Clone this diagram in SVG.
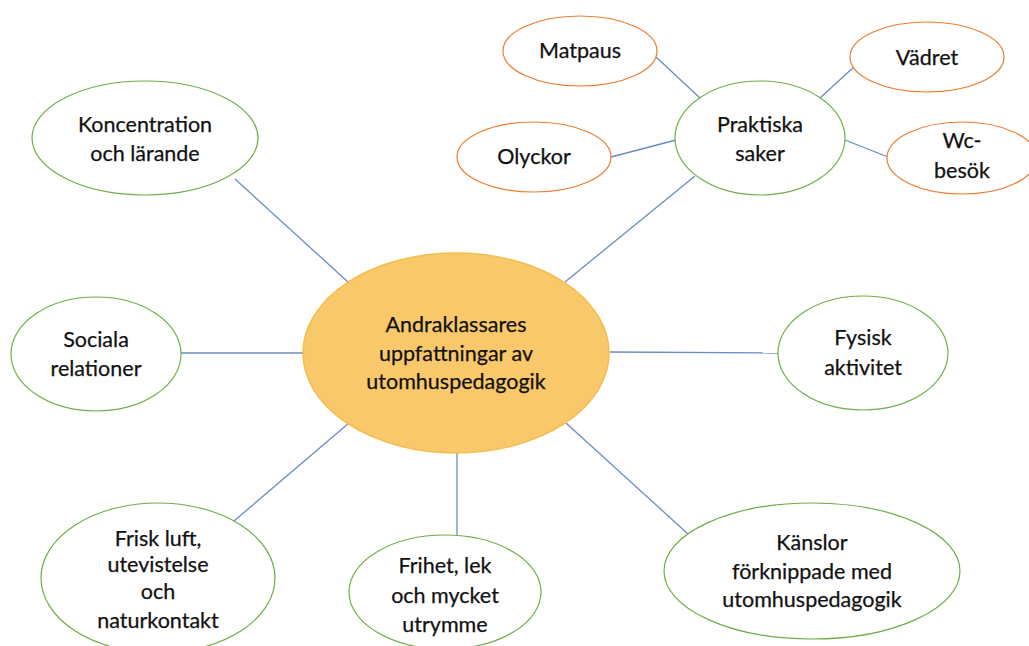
<svg xmlns="http://www.w3.org/2000/svg" width="1029" height="646" viewBox="0 0 1029 646">
<style>
.g{fill:#fff;stroke:#70AD47;stroke-width:1.2}
.o{fill:#fff;stroke:#ED7D31;stroke-width:1.2}
.c{fill:#F9C86B;stroke:#F2BE4E;stroke-width:1.5}
.e line{stroke:#6A8BC8;stroke-width:1.3}
text{font-family:Lato,"Open Sans",sans-serif;font-size:21.5px;fill:#111;text-anchor:middle;stroke:#111;stroke-width:0.25}
</style>
<rect width="1029" height="646" fill="#fff"/>
<g class="e" id="connectors">
<line x1="235" y1="179" x2="348" y2="282"/>
<line x1="181" y1="353" x2="303" y2="353"/>
<line x1="234" y1="521" x2="349" y2="423"/>
<line x1="457" y1="453" x2="457" y2="536"/>
<line x1="566" y1="423" x2="688" y2="534"/>
<line x1="610" y1="352" x2="778" y2="353"/>
<line x1="565" y1="282" x2="695" y2="176"/>
<line x1="656" y1="57" x2="700" y2="98"/>
<line x1="820" y1="98" x2="855" y2="66"/>
<line x1="611" y1="157" x2="676" y2="140"/>
<line x1="845" y1="140" x2="888" y2="157"/>
</g>
<g id="center"><ellipse class="c" cx="456" cy="353" rx="153" ry="100"/>
<text x="456" y="332">Andraklassares</text><text x="456" y="361">uppfattningar av</text><text x="456" y="389">utomhuspedagogik</text></g>
<g id="koncentration"><ellipse class="g" cx="145" cy="138" rx="113" ry="57"/>
<text x="145" y="132">Koncentration</text><text x="145" y="161">och lärande</text></g>
<g id="sociala"><ellipse class="g" cx="96" cy="354" rx="85" ry="57"/>
<text x="96" y="347">Sociala</text><text x="96" y="376">relationer</text></g>
<g id="frisk"><ellipse class="g" cx="158" cy="578" rx="117" ry="75"/>
<text x="158" y="546">Frisk luft,</text><text x="158" y="572">utevistelse</text><text x="158" y="599">och</text><text x="158" y="628">naturkontakt</text></g>
<g id="frihet"><ellipse class="g" cx="445" cy="592" rx="96" ry="57"/>
<text x="445" y="573">Frihet, lek</text><text x="445" y="603">och mycket</text><text x="445" y="632">utrymme</text></g>
<g id="kanslor"><ellipse class="g" cx="812" cy="571" rx="148" ry="68"/>
<text x="812" y="550">Känslor</text><text x="812" y="579">förknippade med</text><text x="812" y="607">utomhuspedagogik</text></g>
<g id="fysisk"><ellipse class="g" cx="863" cy="353" rx="85" ry="57"/>
<text x="863" y="345">Fysisk</text><text x="863" y="375">aktivitet</text></g>
<g id="praktiska"><ellipse class="g" cx="760" cy="138" rx="85" ry="57"/>
<text x="760" y="132">Praktiska</text><text x="760" y="161">saker</text></g>
<g id="matpaus"><ellipse class="o" cx="580" cy="51" rx="77" ry="35"/>
<text x="580" y="58">Matpaus</text></g>
<g id="vadret"><ellipse class="o" cx="927" cy="57" rx="77" ry="35"/>
<text x="927" y="65">Vädret</text></g>
<g id="olyckor"><ellipse class="o" cx="534" cy="157" rx="77" ry="35"/>
<text x="534" y="164">Olyckor</text></g>
<g id="wc"><ellipse class="o" cx="962" cy="158" rx="75" ry="36"/>
<text x="962" y="148">Wc-</text><text x="962" y="178">besök</text></g>
</svg>
